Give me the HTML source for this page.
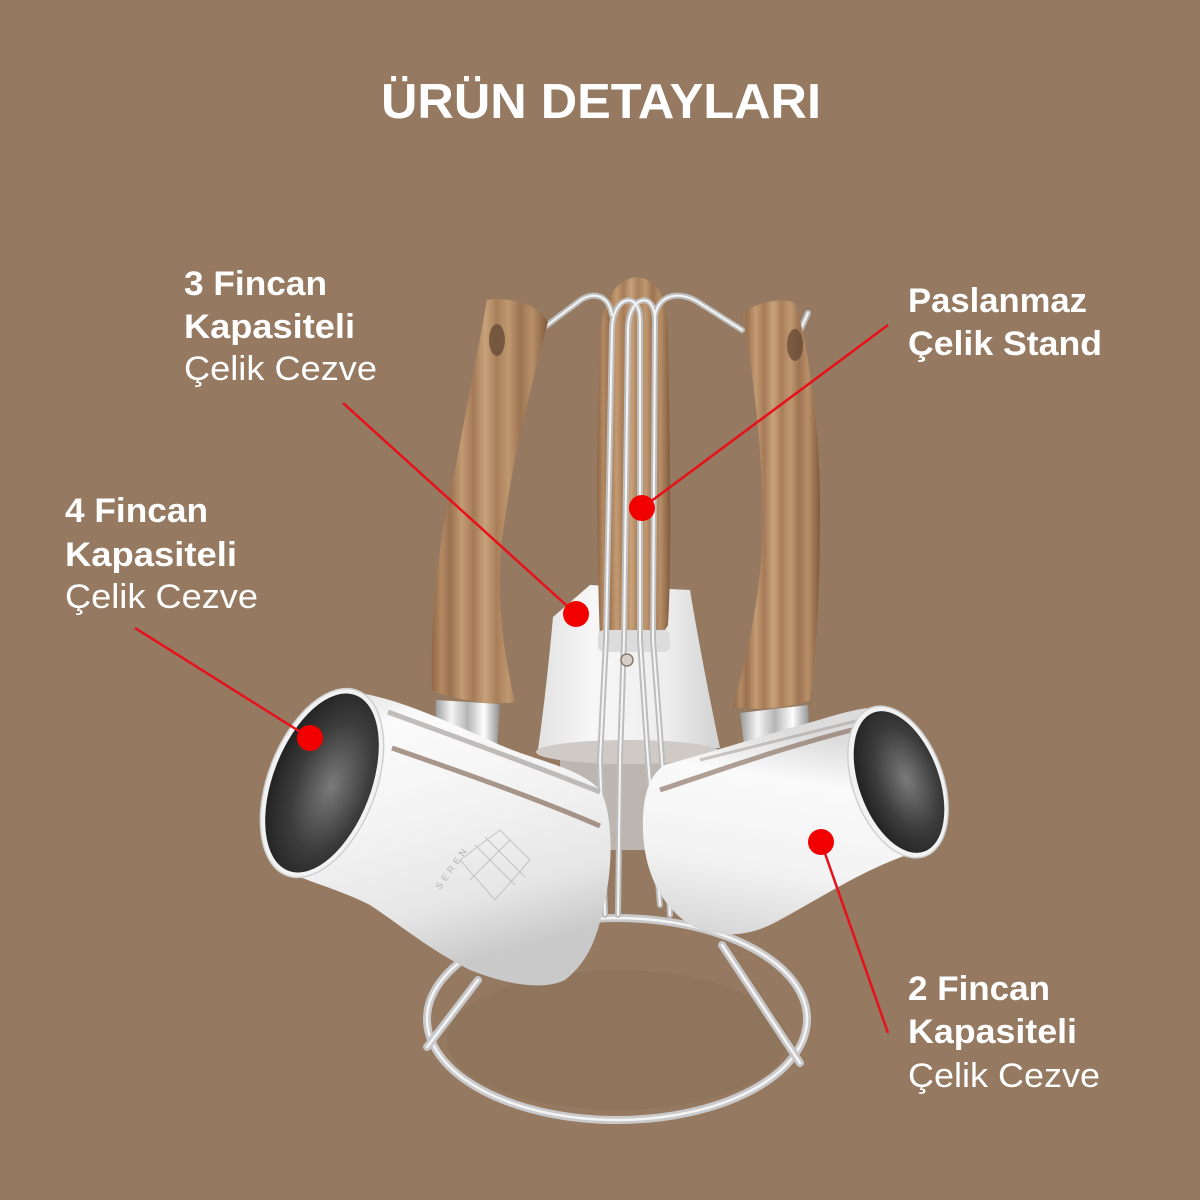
<!DOCTYPE html>
<html><head><meta charset="utf-8">
<style>
html,body{margin:0;padding:0;background:#957961;}
svg{display:block}
</style></head>
<body>
<svg width="1200" height="1200" viewBox="0 0 1200 1200" xmlns="http://www.w3.org/2000/svg">
<defs>
<linearGradient id="wood" x1="0" y1="0" x2="1" y2="0">
<stop offset="0" stop-color="#8e6646"/>
<stop offset="0.08" stop-color="#b48a63"/>
<stop offset="0.16" stop-color="#9b7250"/>
<stop offset="0.26" stop-color="#c39b73"/>
<stop offset="0.36" stop-color="#a57b57"/>
<stop offset="0.46" stop-color="#c8a27b"/>
<stop offset="0.56" stop-color="#a97f5a"/>
<stop offset="0.66" stop-color="#c09870"/>
<stop offset="0.76" stop-color="#9d7452"/>
<stop offset="0.86" stop-color="#b88f68"/>
<stop offset="1" stop-color="#7f5a3d"/>
</linearGradient>
<linearGradient id="steelL" x1="0" y1="0" x2="0.3" y2="1">
<stop offset="0" stop-color="#d9d9d9"/>
<stop offset="0.18" stop-color="#fbfbfb"/>
<stop offset="0.5" stop-color="#f3f3f3"/>
<stop offset="0.8" stop-color="#e6e6e6"/>
<stop offset="1" stop-color="#c9c9c9"/>
</linearGradient>
<linearGradient id="steelR" x1="0" y1="0" x2="-0.2" y2="1">
<stop offset="0" stop-color="#dcdcdc"/>
<stop offset="0.2" stop-color="#fafafa"/>
<stop offset="0.6" stop-color="#f2f2f2"/>
<stop offset="1" stop-color="#cfcfcf"/>
</linearGradient>
<linearGradient id="steelM" x1="0" y1="0" x2="1" y2="0">
<stop offset="0" stop-color="#e2e2e2"/>
<stop offset="0.3" stop-color="#f7f7f7"/>
<stop offset="0.7" stop-color="#eeeeee"/>
<stop offset="1" stop-color="#d2d2d2"/>
</linearGradient>
<linearGradient id="sock" x1="0" y1="0" x2="1" y2="0">
<stop offset="0" stop-color="#9a9a9a"/>
<stop offset="0.25" stop-color="#f5f5f5"/>
<stop offset="0.5" stop-color="#b5b5b5"/>
<stop offset="0.75" stop-color="#ffffff"/>
<stop offset="1" stop-color="#8c8c8c"/>
</linearGradient>
<radialGradient id="inner" cx="0.6" cy="0.5" r="0.6">
<stop offset="0" stop-color="#7a7a7a"/>
<stop offset="0.6" stop-color="#3c3c3c"/>
<stop offset="1" stop-color="#222"/>
</radialGradient>
</defs>

<rect width="1200" height="1200" fill="#957961"/>

<!-- faint shadow inside ring -->
<ellipse cx="617" cy="1040" rx="170" ry="70" fill="#8c715a" opacity="0.5"/>

<!-- base ring -->
<ellipse cx="617" cy="1019" rx="190" ry="101" fill="none" stroke="#c9c9cb" stroke-width="8"/>
<ellipse cx="617" cy="1019" rx="190" ry="101" fill="none" stroke="#f4f4f4" stroke-width="2.5"/>

<!-- middle pot (behind) -->
<rect x="560" y="750" width="140" height="100" fill="#bdb6b0"/>
<path d="M553,617 L590,585 L690,590 C700,650 710,700 720,748 L538,750 C545,700 550,650 553,617 Z" fill="url(#steelM)"/>
<ellipse cx="628" cy="752" rx="92" ry="12" fill="#cfcac6"/>

<!-- center handle -->
<path d="M600,640 C597,560 596,450 600,340 C602,300 615,280 637,277 C660,280 668,300 668,340 C670,450 672,560 668,625 C660,645 610,648 600,640 Z" fill="url(#wood)"/>
<rect x="598" y="630" width="72" height="22" rx="6" fill="#dcdcdc"/>

<!-- stand rods -->
<g fill="none" stroke-linecap="round">
<g stroke="#bdbdbd" stroke-width="6">
<path d="M612,330 C612,295 640,290 640,320 L640,640 L648,760 L660,905"/>
<path d="M628,330 C628,295 655,290 655,320 L653,640 L662,760 L670,915"/>
<path d="M612,330 L606,640 L600,760 L605,915"/>
<path d="M628,330 L624,640 L620,760 L618,915"/>
<path d="M612,315 C608,292 590,292 578,302 L546,326"/>
<path d="M655,315 C660,292 682,292 698,302 L742,330"/>
<path d="M490,305 L500,330"/>
<path d="M808,313 L798,335"/>
</g>
<g stroke="#f6f6f6" stroke-width="2">
<path d="M612,330 C612,295 640,290 640,320 L640,640 L648,760 L660,905"/>
<path d="M628,330 C628,295 655,290 655,320 L653,640 L662,760 L670,915"/>
<path d="M612,330 L606,640 L600,760 L605,915"/>
<path d="M628,330 L624,640 L620,760 L618,915"/>
<path d="M612,315 C608,292 590,292 578,302 L546,326"/>
<path d="M655,315 C660,292 682,292 698,302 L742,330"/>
<path d="M490,305 L500,330"/>
<path d="M808,313 L798,335"/>
</g>
</g>
<circle cx="627" cy="660" r="6" fill="#d8d0c8" stroke="#8a7a6c" stroke-width="1.5"/>

<!-- left handle -->
<path d="M487,300 C510,296 540,305 548,322 C530,390 512,460 502,540 C495,600 505,660 515,702 C490,706 455,700 432,690 C430,620 438,540 455,470 C468,400 480,340 487,300 Z" fill="url(#wood)"/>
<ellipse cx="497" cy="340" rx="8" ry="16" fill="#5e4330" opacity="0.7"/>
<!-- right handle -->
<path d="M743,313 C760,300 785,298 795,303 C808,340 820,430 820,503 C820,580 818,640 810,700 C785,710 755,710 733,707 C745,660 762,600 763,520 C762,440 752,370 743,313 Z" fill="url(#wood)"/>
<ellipse cx="795" cy="345" rx="8" ry="16" fill="#5e4330" opacity="0.7"/>

<!-- legs -->
<g stroke-linecap="round">
<line x1="427" y1="1047" x2="478" y2="980" stroke="#c6c6c8" stroke-width="8"/>
<line x1="427" y1="1047" x2="478" y2="980" stroke="#f5f5f5" stroke-width="2.5"/>
<line x1="800" y1="1063" x2="722" y2="945" stroke="#c6c6c8" stroke-width="8"/>
<line x1="800" y1="1063" x2="722" y2="945" stroke="#f5f5f5" stroke-width="2.5"/>
</g>

<!-- left socket -->
<path d="M436,700 L500,704 L497,748 C480,756 450,753 435,745 Z" fill="url(#sock)"/>
<!-- right socket -->
<path d="M740,713 L808,705 L810,748 C790,757 760,758 745,752 Z" fill="url(#sock)"/>

<!-- left pot -->
<path d="M360,693 C400,700 440,718 500,745 C540,762 580,768 600,790 C612,810 614,860 605,900 C598,935 590,960 565,980 C540,992 500,982 470,970 C430,950 400,925 370,905 C340,890 310,882 290,873 Z" fill="url(#steelL)"/>
<path d="M388,712 C450,735 520,760 600,792" stroke="#a8a3a0" stroke-width="5" fill="none" opacity="0.7"/>
<path d="M392,748 C470,775 540,800 600,826" stroke="#7e6251" stroke-width="5" fill="none" opacity="0.65"/>
<g stroke="#b9b9b9" stroke-width="1" fill="none" opacity="0.8">
<path d="M460,860 L500,830 L530,860 L495,900 Z"/>
<path d="M475,845 L515,885 M485,837 L525,877 M470,880 L510,840"/>
</g>
<text x="440" y="890" font-family="Liberation Sans, sans-serif" font-size="9" fill="#b0b0b0" letter-spacing="4" transform="rotate(-55 440 890)">SEREN</text>
<ellipse cx="322" cy="783" rx="54" ry="99" transform="rotate(21 322 783)" fill="#f2f2f2" stroke="#d0d0d0" stroke-width="1.5"/>
<ellipse cx="322" cy="783" rx="49" ry="94" transform="rotate(21 322 783)" fill="url(#inner)"/>

<!-- right pot -->
<path d="M867,708 C840,712 815,722 790,728 C750,740 700,755 665,765 C648,775 642,800 643,830 C644,870 660,905 690,925 C715,938 745,937 770,925 C810,905 860,870 913,853 Z" fill="url(#steelR)"/>
<path d="M660,790 C720,770 790,745 860,728" stroke="#7e6251" stroke-width="5" fill="none" opacity="0.6"/>
<path d="M700,760 C760,745 810,733 860,720" stroke="#a9a4a0" stroke-width="3" fill="none" opacity="0.6"/>
<ellipse cx="898" cy="782" rx="45" ry="79" transform="rotate(-20 898 782)" fill="#f2f2f2" stroke="#d0d0d0" stroke-width="1.5"/>
<ellipse cx="899" cy="782" rx="40" ry="74" transform="rotate(-20 899 782)" fill="url(#inner)"/>

<!-- red callouts -->
<g stroke="#e8101a" stroke-width="2.5">
<line x1="343" y1="403" x2="576" y2="614"/>
<line x1="888" y1="325" x2="642" y2="508"/>
<line x1="135" y1="628" x2="310" y2="738"/>
<line x1="888" y1="1033" x2="821" y2="842"/>
</g>
<g fill="#f20000">
<circle cx="576" cy="614" r="13"/>
<circle cx="642" cy="508" r="13"/>
<circle cx="310" cy="738" r="13"/>
<circle cx="821" cy="842" r="13"/>
</g>

<!-- text -->
<g fill="#ffffff" font-family="Liberation Sans, sans-serif">
<text x="381" y="118" font-size="49" font-weight="bold" textLength="440" lengthAdjust="spacingAndGlyphs">ÜRÜN DETAYLARI</text>

<text x="184" y="295" font-size="34" font-weight="bold" textLength="143" lengthAdjust="spacingAndGlyphs">3 Fincan</text>
<text x="184" y="338" font-size="34" font-weight="bold" textLength="171" lengthAdjust="spacingAndGlyphs">Kapasiteli</text>
<text x="184" y="380" font-size="34" textLength="193" lengthAdjust="spacingAndGlyphs">Çelik Cezve</text>

<text x="65" y="522" font-size="34" font-weight="bold" textLength="143" lengthAdjust="spacingAndGlyphs">4 Fincan</text>
<text x="65" y="566" font-size="34" font-weight="bold" textLength="172" lengthAdjust="spacingAndGlyphs">Kapasiteli</text>
<text x="65" y="608" font-size="34" textLength="193" lengthAdjust="spacingAndGlyphs">Çelik Cezve</text>

<text x="908" y="312" font-size="34" font-weight="bold" textLength="179" lengthAdjust="spacingAndGlyphs">Paslanmaz</text>
<text x="908" y="355" font-size="34" font-weight="bold" textLength="194" lengthAdjust="spacingAndGlyphs">Çelik Stand</text>

<text x="908" y="1000" font-size="34" font-weight="bold" textLength="142" lengthAdjust="spacingAndGlyphs">2 Fincan</text>
<text x="908" y="1043" font-size="34" font-weight="bold" textLength="169" lengthAdjust="spacingAndGlyphs">Kapasiteli</text>
<text x="908" y="1087" font-size="34" textLength="192" lengthAdjust="spacingAndGlyphs">Çelik Cezve</text>
</g>
</svg>
</body></html>
